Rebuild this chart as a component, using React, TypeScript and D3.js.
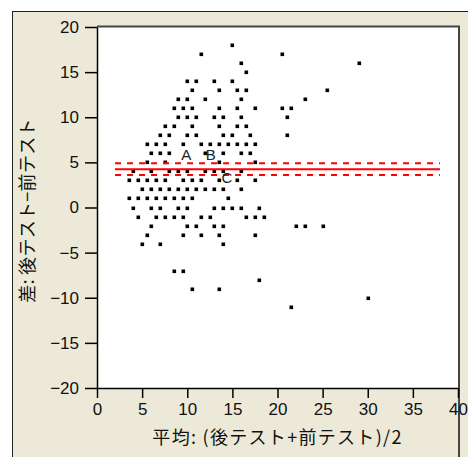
import { useEffect, useRef } from 'react';
import * as d3 from 'd3';

// differences (post - pre), one row per value
const diffRows = [18, 17, 16, 15, 14, 13, 12, 11, 10, 9, 8, 7, 6, 5, 4, 3, 2, 1, 0, -1, -2, -3, -4, -7, -8, -9, -10, -11];
// means (post + pre) / 2 for each row above
const meanRows = [
  [15],
  [11.5, 20.5],
  [16, 29],
  [16.5],
  [10, 11, 13, 15],
  [10.5, 13.5, 15.5, 16.5, 25.5],
  [9, 10, 12, 16, 23],
  [8.5, 9.5, 10.5, 13.5, 15.5, 17.5, 20.5, 21.5],
  [9, 10, 11, 13, 14, 16, 21],
  [7.5, 8.5, 10.5, 13.5, 15.5, 16.5],
  [7, 8, 10, 11, 14, 15, 17, 21],
  [5.5, 6.5, 7.5, 9.5, 11.5, 12.5, 13.5, 14.5, 15.5, 16.5, 17.5],
  [6, 7, 8, 12, 14, 16, 17],
  [5.5, 7.5, 13.5, 17.5],
  [4, 6, 8, 9, 10, 12, 13, 14, 16],
  [3.5, 4.5, 5.5, 6.5, 7.5, 9.5, 10.5, 11.5, 13.5, 15.5, 17.5],
  [5, 6, 7, 8, 9, 10, 11, 12, 13, 14, 16],
  [3.5, 4.5, 5.5, 6.5, 7.5, 8.5, 9.5, 10.5, 14.5],
  [4, 6, 7, 9, 10, 13, 14, 15, 16, 18],
  [4.5, 6.5, 7.5, 8.5, 9.5, 11.5, 12.5, 16.5, 17.5, 18.5],
  [6, 10, 11, 13, 14, 22, 23, 25],
  [5.5, 9.5, 11.5, 13.5, 17.5],
  [5, 7, 14],
  [8.5, 9.5],
  [18],
  [10.5, 13.5],
  [30],
  [21.5],
];

const meanDiff = 4.25;
const ciUpper = 4.9;
const ciLower = 3.6;
const lineExtent = [2, 38];

const markLabels = ['A', 'B', 'C'];
const markLabelX = [9.9, 12.6, 14.4];
const markLabelY = [5.8, 5.8, 3.3];

const xTicks = [0, 5, 10, 15, 20, 25, 30, 35, 40];
const yTicks = [-20, -15, -10, -5, 0, 5, 10, 15, 20];
const xTitle = '平均: (後テスト+前テスト)/2';
const yTitle = '差: 後テスト−前テスト';

const W = 468;
const H = 457;
const plot = { left: 97, top: 27, right: 458, bottom: 388 };
const tickFont = "'Liberation Sans', Arial, sans-serif";
const jpFont = "'Noto Sans CJK JP', sans-serif";

export default function App() {
  const ref = useRef<SVGSVGElement>(null);

  useEffect(() => {
    const el = ref.current;
    if (!el) return;
    const svg = d3.select(el);
    svg.selectAll('*').remove();

    const x = d3.scaleLinear().domain([0, 40]).range([plot.left, plot.right]);
    const y = d3.scaleLinear().domain([-20, 20]).range([plot.bottom, plot.top]);

    // window frame
    svg.append('rect').attr('width', W).attr('height', H).attr('fill', '#fff');
    svg
      .append('rect')
      .attr('x', 12.5)
      .attr('y', 11.5)
      .attr('width', 480)
      .attr('height', 470)
      .attr('fill', '#ECE9D8')
      .attr('stroke', '#222');

    svg
      .append('rect')
      .attr('x', plot.left)
      .attr('y', plot.top)
      .attr('width', plot.right - plot.left)
      .attr('height', plot.bottom - plot.top)
      .attr('fill', '#fff');

    svg
      .append('line')
      .attr('x1', plot.left)
      .attr('x2', plot.right + 2)
      .attr('y1', plot.top - 0.5)
      .attr('y2', plot.top - 0.5)
      .attr('stroke', '#444')
      .attr('stroke-width', 2);
    svg
      .append('line')
      .attr('x1', plot.right + 1)
      .attr('x2', plot.right + 1)
      .attr('y1', plot.top - 1)
      .attr('y2', H)
      .attr('stroke', '#444')
      .attr('stroke-width', 2);

    // points
    const points = diffRows.flatMap((d, i) => meanRows[i].map((m) => ({ m, d })));
    svg
      .append('g')
      .selectAll('rect')
      .data(points)
      .join('rect')
      .attr('x', (p) => Math.round(x(p.m)) - 1.5)
      .attr('y', (p) => Math.round(y(p.d)) - 1.5)
      .attr('width', 3.6)
      .attr('height', 3.6)
      .attr('fill', '#000');

    // mean difference and confidence limits
    const lines = [
      { v: ciUpper, dash: '6,6' },
      { v: meanDiff, dash: null },
      { v: ciLower, dash: '6,6' },
    ];
    svg
      .append('g')
      .selectAll('line')
      .data(lines)
      .join('line')
      .attr('x1', x(lineExtent[0]))
      .attr('x2', x(lineExtent[1]))
      .attr('y1', (l) => y(l.v))
      .attr('y2', (l) => y(l.v))
      .attr('stroke', '#ff0000')
      .attr('stroke-width', 2)
      .attr('stroke-dasharray', (l) => l.dash);

    svg
      .append('g')
      .selectAll('text')
      .data(markLabels)
      .join('text')
      .attr('x', (_d, i) => x(markLabelX[i]))
      .attr('y', (_d, i) => y(markLabelY[i]))
      .attr('dy', '0.35em')
      .attr('text-anchor', 'middle')
      .attr('font-family', tickFont)
      .attr('font-size', 15)
      .attr('fill', '#222')
      .text((d) => d);

    // axes
    const fmt = (v: number) => (v < 0 ? '−' + Math.abs(v) : String(v));
    const gx = svg
      .append('g')
      .attr('transform', `translate(0,${plot.bottom})`)
      .call(d3.axisBottom(x).tickValues(xTicks).tickSize(10).tickSizeOuter(0).tickPadding(5).tickFormat((v) => fmt(+v)));
    const gy = svg
      .append('g')
      .attr('transform', `translate(${plot.left},0)`)
      .call(d3.axisLeft(y).tickValues(yTicks).tickSize(12).tickSizeOuter(0).tickPadding(6).tickFormat((v) => fmt(+v)));
    [gx, gy].forEach((g) => {
      g.selectAll('path,line').attr('stroke', '#000').attr('stroke-width', 1.5);
      g.selectAll('text').attr('font-family', tickFont).attr('font-size', 17).attr('fill', '#111');
    });

    svg
      .append('text')
      .attr('x', (plot.left + plot.right) / 2)
      .attr('y', 444)
      .attr('text-anchor', 'middle')
      .attr('font-family', jpFont)
      .attr('font-size', 18)
      .attr('letter-spacing', 1.3)
      .attr('fill', '#111')
      .text(xTitle);

    svg
      .append('text')
      .attr('transform', `translate(34,${(plot.top + plot.bottom) / 2 + 3}) rotate(-90)`)
      .attr('text-anchor', 'middle')
      .attr('font-family', jpFont)
      .attr('font-size', 18)
      .attr('letter-spacing', 0.3)
      .attr('fill', '#111')
      .text(yTitle);
  }, []);

  return (
    <svg
      ref={ref}
      width={W}
      height={H}
      style={{ position: 'absolute', left: 0, top: 0, display: 'block' }}
    />
  );
}
